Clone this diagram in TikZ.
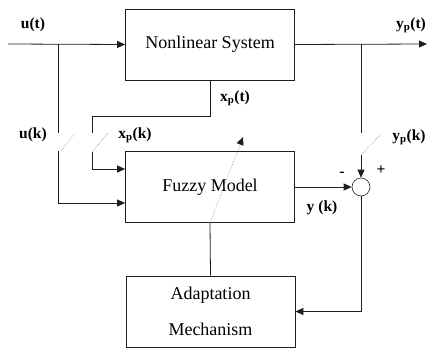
\documentclass[tikz,border=0pt]{standalone}
\usepackage{fontspec}
\setmainfont{Liberation Serif}
\usetikzlibrary{arrows.meta, positioning, calc}
\definecolor{linegray}{RGB}{30, 30, 30}
\definecolor{switchgray}{RGB}{150, 150, 150}

\begin{document}
\begin{tikzpicture}[x=1pt, y=-1pt,
        block/.style={draw=linegray, line width=0.8pt, minimum width=169pt, minimum height=71pt, font=\fontsize{18}{36}\selectfont, align=center},
        sumnode/.style={draw=linegray, line width=0.6pt, circle, minimum size=18pt, inner sep=0pt},
        lbl/.style={font=\fontsize{15.5}{18}\selectfont\bfseries, inner sep=1pt},
        wire/.style={draw=linegray, line width=0.8pt},
        arr/.style={wire, -{Triangle[length=8pt, width=7pt]}},
        switchline/.style={draw=switchgray, line width=0.6pt, densely dotted},
        tune/.style={draw=switchgray, line width=0.6pt, densely dotted, -{Triangle[length=8pt, width=7pt, color=linegray]}}
      ]
        \useasboundingbox (0,0) rectangle (428,348);
        \node[block] (nls) at (210,44.5) {Nonlinear System};
        \node[block] (fm) at (210,187) {Fuzzy Model};
        \node[block] (am) at (210.5,311.5) {Adaptation\\Mechanism};
        \node[sumnode] (sum) at (361,187) {};

        \coordinate (uin) at (8,44);
        \coordinate (ub) at (58,44);
        \coordinate (us1) at (58,133);
        \coordinate (us2) at (58,151);
        \coordinate (xs1) at (92,133);
        \coordinate (xs2) at (92,152);
        \coordinate (yout) at (427,44);
        \coordinate (yb) at (361,44);
        \coordinate (ys1) at (361,133);
        \coordinate (ys2) at (361,155);
        \coordinate (tip) at (243,137);

        \draw[arr] (uin) -- (nls.west);
        \draw[wire] (ub) -- (us1);
        \draw[switchline] ($(us2)+(3,0)$) -- ($(us1)+(17,0)$);
        \draw[arr] (us2) |- ([yshift=-16pt]fm.west);

        \draw[wire] (nls.south) |- (92,116) -- (xs1);
        \draw[switchline] (xs2) -- ($(xs1)+(16,0)$);
        \draw[arr] (xs2) |- ([yshift=18pt]fm.west);

        \draw[arr] (nls.east) -- (yout);
        \draw[wire] (yb) -- (ys1);
        \draw[switchline] (ys2) -- ($(ys1)+(20,1)$);
        \draw[arr] (ys2) -- (sum.north);

        \draw[arr] (fm.east) -- (sum.west);
        \draw[arr] (sum.south) |- (am.east);
        \draw[wire] (fm.south) -- (am.north);
        \draw[tune] (fm.south) -- (tip);

        \node[lbl] (lut) at (33,25) {u(t)};
        \node[lbl] (luk) at (33,135) {u(k)};
        \node[lbl] (lxt) at (235,98) {x\textsubscript{p}(t)};
        \node[lbl] (lxk) at (135,135) {x\textsubscript{p}(k)};
        \node[lbl] (lyt) at (411,25) {y\textsubscript{p}(t)};
        \node[lbl] (lyk) at (409,137) {y\textsubscript{p}(k)};
        \node[lbl] (lyy) at (322,208) {y (k)};
        \node[lbl] (lmin) at (342,174) {-};
        \node[lbl] (lplus) at (381,170) {+};
      \end{tikzpicture}
\end{document}
